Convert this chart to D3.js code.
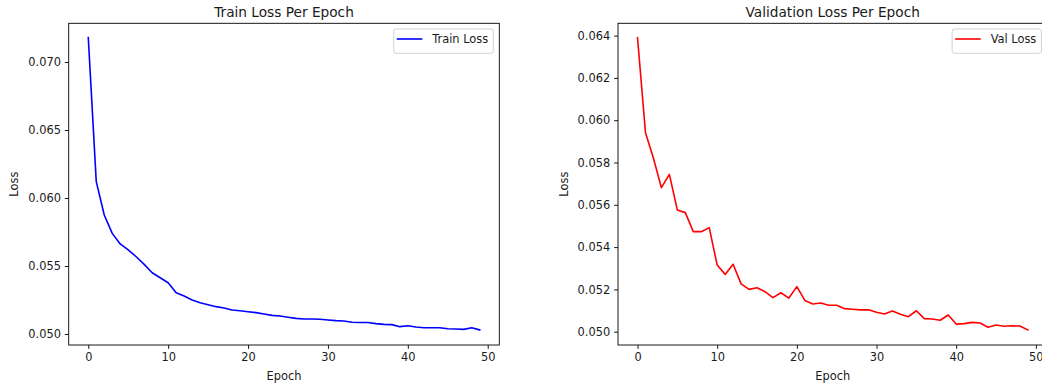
<!DOCTYPE html>
<html>
<head>
<meta charset="utf-8">
<script src="https://cdnjs.cloudflare.com/ajax/libs/d3/7.8.5/d3.min.js"></script>
<style>
  html, body { margin: 0; padding: 0; background: #fff; overflow: hidden; }
  svg { display: block; font-family: "DejaVu Sans", sans-serif; }
</style>
</head>
<body>
<svg id="chart" width="1042" height="387"></svg>
<script>
const epochs = d3.range(0, 50);
const trainLoss = [
  0.07180, 0.06120, 0.05875, 0.05740, 0.05662, 0.05618, 0.05568, 0.05512, 0.05450, 0.05414,
  0.05377, 0.05304, 0.05279, 0.05250, 0.05230, 0.05215, 0.05201, 0.05191, 0.05176, 0.05171,
  0.05164, 0.05157, 0.05147, 0.05137, 0.05132, 0.05123, 0.05115, 0.05110, 0.05110, 0.05108,
  0.05103, 0.05098, 0.05096, 0.05086, 0.05084, 0.05084, 0.05076, 0.05071, 0.05069, 0.05054,
  0.05061, 0.05051, 0.05046, 0.05046, 0.05046, 0.05039, 0.05037, 0.05034, 0.05046, 0.05030
];
const valLoss = [
  0.06390, 0.05941, 0.05820, 0.05681, 0.05744, 0.05575, 0.05563, 0.05473, 0.05473, 0.05492,
  0.05315, 0.05271, 0.05319, 0.05226, 0.05200, 0.05208, 0.05189, 0.05161, 0.05184, 0.05159,
  0.05213, 0.05148, 0.05131, 0.05136, 0.05125, 0.05125, 0.05109, 0.05106, 0.05103, 0.05104,
  0.05092, 0.05084, 0.05098, 0.05082, 0.05071, 0.05099, 0.05062, 0.05060, 0.05054, 0.05079,
  0.05036, 0.05038, 0.05044, 0.05041, 0.05021, 0.05032, 0.05026, 0.05028, 0.05027, 0.05008
];
const xTicks = [0, 10, 20, 30, 40, 50];
const trainYTicks = [0.050, 0.055, 0.060, 0.065, 0.070];
const valYTicks = [0.050, 0.052, 0.054, 0.056, 0.058, 0.060, 0.062, 0.064];
const titles = ["Train Loss Per Epoch", "Validation Loss Per Epoch"];
const legendLabels = ["Train Loss", "Val Loss"];
const xLabel = "Epoch";
const yLabel = "Loss";

const svg = d3.select("#chart");
const textColor = "#1a1a1a";
const fs = 11.4;

const panels = [
  { left: 68.7, right: 499.3, top: 23.3, bottom: 345, ydom: [0.049191, 0.072846],
    data: trainLoss, yTicks: trainYTicks, color: "#0000ff", title: titles[0], legend: legendLabels[0], ylabX: 14 },
  { left: 618, right: 1047.4, top: 23.3, bottom: 345, ydom: [0.049371, 0.064582],
    data: valLoss, yTicks: valYTicks, color: "#ff0000", title: titles[1], legend: legendLabels[1], ylabX: 564 }
];

panels.forEach(p => {
  const x = d3.scaleLinear().domain([-2.45, 51.45]).range([p.left, p.right]);
  const y = d3.scaleLinear().domain(p.ydom).range([p.bottom, p.top]);
  const g = svg.append("g");

  g.append("path")
    .datum(p.data.map((v, i) => [epochs[i], v]))
    .attr("fill", "none")
    .attr("stroke", p.color)
    .attr("stroke-width", 1.6)
    .attr("stroke-linejoin", "round")
    .attr("stroke-linecap", "square")
    .attr("d", d3.line().x(d => x(d[0])).y(d => y(d[1])));

  const xAxis = d3.axisBottom(x).tickValues(xTicks).tickSize(3.9).tickPadding(3.9).tickFormat(d3.format("d"));
  const yAxis = d3.axisLeft(y).tickValues(p.yTicks).tickSize(3.9).tickPadding(3.9).tickFormat(d3.format(".3f"));

  const gx = g.append("g").attr("transform", `translate(0,${p.bottom})`).call(xAxis);
  const gy = g.append("g").attr("transform", `translate(${p.left},0)`).call(yAxis);
  [gx, gy].forEach(a => {
    a.select(".domain").remove();
    a.selectAll("line").attr("stroke", "#000").attr("stroke-width", 0.9);
    a.selectAll("text").attr("fill", textColor).style("font-size", fs + "px").style("font-family", "DejaVu Sans");
  });

  g.append("rect")
    .attr("x", p.left).attr("y", p.top)
    .attr("width", p.right - p.left).attr("height", p.bottom - p.top)
    .attr("fill", "none").attr("stroke", "#000").attr("stroke-width", 0.9);

  g.append("text")
    .attr("x", (p.left + p.right) / 2).attr("y", 17)
    .attr("text-anchor", "middle")
    .attr("fill", textColor)
    .style("font-size", "13.7px")
    .text(p.title);

  g.append("text")
    .attr("x", (p.left + p.right) / 2).attr("y", 380)
    .attr("text-anchor", "middle")
    .attr("fill", textColor)
    .style("font-size", fs + "px")
    .text(xLabel);

  g.append("text")
    .attr("transform", `translate(${p.ylabX + 4},${(p.top + p.bottom) / 2}) rotate(-90)`)
    .attr("text-anchor", "middle")
    .attr("fill", textColor)
    .style("font-size", fs + "px")
    .text(yLabel);

  const lg = g.append("g");
  const box = lg.append("rect");
  const sw = lg.append("line");
  const txt = lg.append("text")
    .attr("fill", textColor)
    .style("font-size", "11.4px")
    .text(p.legend);
  const tw = txt.node().getComputedTextLength();
  const bw = tw + 43.6;
  const lx = p.right - 6 - bw, ly = 29;
  lg.attr("transform", `translate(${lx},${ly})`);
  box.attr("x", 0).attr("y", 0).attr("width", bw).attr("height", 24.3)
    .attr("rx", 2.5).attr("ry", 2.5)
    .attr("fill", "#fff").attr("fill-opacity", 0.8)
    .attr("stroke", "#cccccc").attr("stroke-width", 0.9);
  sw.attr("x1", 3).attr("x2", 28.6).attr("y1", 10).attr("y2", 10)
    .attr("stroke", p.color).attr("stroke-width", 1.6);
  txt.attr("x", 38.5).attr("y", 14.2);
});
</script>
</body>
</html>
